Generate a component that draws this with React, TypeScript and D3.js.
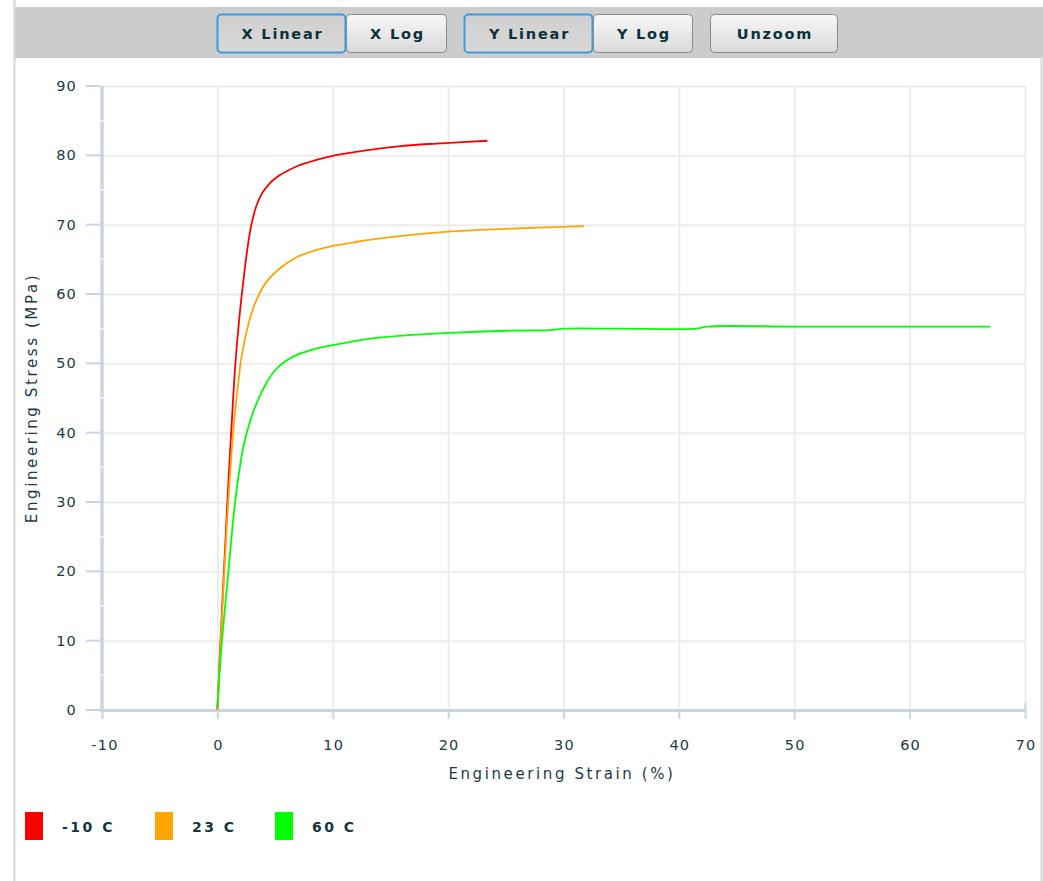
import React, { useEffect, useRef } from "react";
import * as d3 from "d3";

// series: [strain %, stress MPa]
const redPoints: [number, number][] = [
  [0, 0], [0.3, 11], [0.6, 21], [0.96, 33], [1.3, 43], [1.54, 49.5], [1.9, 56.5],
  [2.26, 62], [2.6, 66.5], [2.95, 70], [3.4, 72.8], [3.9, 74.6], [4.5, 75.9], [5.2, 76.9],
  [6, 77.7], [7, 78.5], [8.5, 79.3], [9.9, 79.9], [12, 80.5], [15.7, 81.3], [19, 81.7], [23.4, 82.1],
];
const orangePoints: [number, number][] = [
  [0, 0], [0.35, 12], [0.7, 23], [0.96, 30.5], [1.39, 40.5], [1.8, 47], [2.1, 51],
  [2.7, 55.7], [3.3, 58.8], [4.14, 61.5], [5.56, 63.9], [7, 65.4], [8.5, 66.3],
  [9.9, 66.9], [12, 67.5], [15, 68.2], [20, 69.0], [25, 69.4], [31.8, 69.8],
];
const greenPoints: [number, number][] = [
  [0, 0.3], [0.35, 9], [0.96, 20], [1.54, 30], [2.26, 38], [2.96, 42.3], [3.6, 45],
  [4.3, 47.3], [5.0, 49], [5.8, 50.2], [7, 51.3], [8.5, 52.1], [9.9, 52.6], [13, 53.5],
  [16, 54], [20.1, 54.4], [25, 54.7], [28.8, 54.8], [30.1, 55.0], [35, 55.0], [41.5, 55.0],
  [42.4, 55.3], [50, 55.3], [60, 55.3], [67, 55.3],
];

const seriesNames = ["-10 C", "23 C", "60 C"];
const seriesColors = ["#ff0000", "#ffa500", "#00ff00"];
const seriesData = [redPoints, orangePoints, greenPoints];

const xTicks = [-10, 0, 10, 20, 30, 40, 50, 60, 70];
const yTicks = [0, 10, 20, 30, 40, 50, 60, 70, 80, 90];
const yMinorTicks = [5, 15, 25, 35, 45, 55, 65, 75, 85];

const buttonGroups = [
  [{ label: "X Linear", on: true }, { label: "X Log", on: false }],
  [{ label: "Y Linear", on: true }, { label: "Y Log", on: false }],
  [{ label: "Unzoom", on: false }],
];

const W = 1043;
const H = 881;
const textColor = "#1d3a44";
const axisColor = "#c8d5e3";
const gridColor = "#ececec";
const font = "'DejaVu Sans', Verdana, sans-serif";

const App = () => {
  const ref = useRef<SVGSVGElement>(null);

  useEffect(() => {
    const svg = d3.select(ref.current);
    svg.selectAll("*").remove();

    const x = d3.scaleLinear().domain([-10, 70]).range([102, 1025]);
    const y = d3.scaleLinear().domain([0, 90]).range([710, 86]);

    const defs = svg.append("defs");
    const gOff = defs.append("linearGradient").attr("id", "btnOff")
      .attr("x1", 0).attr("y1", 0).attr("x2", 0).attr("y2", 1);
    gOff.append("stop").attr("offset", "0%").attr("stop-color", "#f7f7f7");
    gOff.append("stop").attr("offset", "100%").attr("stop-color", "#dadada");
    const gOn = defs.append("linearGradient").attr("id", "btnOn")
      .attr("x1", 0).attr("y1", 0).attr("x2", 0).attr("y2", 1);
    gOn.append("stop").attr("offset", "0%").attr("stop-color", "#d0d0d0");
    gOn.append("stop").attr("offset", "100%").attr("stop-color", "#d8d8d8");

    // panel frame + header
    svg.append("rect").attr("x", 0).attr("y", 0).attr("width", W).attr("height", H).attr("fill", "#fff");
    svg.append("rect").attr("x", 14).attr("y", 7).attr("width", W - 14).attr("height", 51).attr("fill", "#cccccc");
    svg.append("line").attr("x1", 14.5).attr("x2", 14.5).attr("y1", 0).attr("y2", H)
      .attr("stroke", "#d6d6d6").attr("stroke-width", 2);
    svg.append("line").attr("x1", 1041.5).attr("x2", 1041.5).attr("y1", 58).attr("y2", H)
      .attr("stroke", "#d6d6d6").attr("stroke-width", 2);

    // buttons
    const groupStarts = [217, 464, 710];
    const widths: Record<string, number> = { "X Linear": 129, "X Log": 101, "Y Linear": 129, "Y Log": 100, "Unzoom": 128 };
    buttonGroups.forEach((grp, gi) => {
      let bx = groupStarts[gi];
      grp.forEach((b) => {
        const bw = widths[b.label];
        svg.append("rect").attr("x", bx + 0.5).attr("y", 14.5).attr("width", bw - 1).attr("height", 38)
          .attr("rx", 4)
          .attr("fill", b.on ? "url(#btnOn)" : "url(#btnOff)")
          .attr("stroke", b.on ? "#3a9be0" : "#8a8a8a")
          .attr("stroke-width", b.on ? 2 : 1);
        svg.append("text").attr("x", bx + bw / 2 + 1).attr("y", 39)
          .attr("text-anchor", "middle")
          .attr("font-family", font).attr("font-weight", "bold").attr("font-size", 14.5)
          .attr("letter-spacing", 1.8)
          .attr("fill", "#0a303b")
          .text(b.label);
        bx += bw;
      });
    });

    // gridlines
    svg.append("g").selectAll("line").data(yTicks.filter((d) => d > 0)).join("line")
      .attr("x1", 102).attr("x2", 1025)
      .attr("y1", (d) => y(d) + 0.5).attr("y2", (d) => y(d) + 0.5)
      .attr("stroke", gridColor).attr("stroke-width", 2);
    svg.append("g").selectAll("line").data(xTicks.filter((d) => d > -10)).join("line")
      .attr("x1", (d) => x(d) + 0.5).attr("x2", (d) => x(d) + 0.5)
      .attr("y1", 86).attr("y2", 710)
      .attr("stroke", gridColor).attr("stroke-width", 2);

    // y axis
    svg.append("line").attr("x1", 102).attr("x2", 102).attr("y1", 86).attr("y2", 712)
      .attr("stroke", axisColor).attr("stroke-width", 3.5);
    svg.append("g").selectAll("line").data(yMinorTicks).join("line")
      .attr("x1", 100).attr("x2", 104)
      .attr("y1", (d) => y(d)).attr("y2", (d) => y(d))
      .attr("stroke", "#eef2f7").attr("stroke-width", 1.5);
    svg.append("g").selectAll("line").data(yTicks).join("line")
      .attr("x1", 86).attr("x2", 101)
      .attr("y1", (d) => y(d)).attr("y2", (d) => y(d))
      .attr("stroke", axisColor).attr("stroke-width", 2);
    svg.append("g").selectAll("text").data(yTicks).join("text")
      .attr("x", 77).attr("y", (d) => y(d) + 5)
      .attr("text-anchor", "end")
      .attr("font-family", font).attr("font-size", 14.5).attr("letter-spacing", 1.2)
      .attr("fill", textColor)
      .text((d) => String(d));

    // x axis
    svg.append("line").attr("x1", 100).attr("x2", 1026).attr("y1", 710.5).attr("y2", 710.5)
      .attr("stroke", axisColor).attr("stroke-width", 3);
    svg.append("g").selectAll("line").data(xTicks).join("line")
      .attr("x1", (d) => x(d) + 0.5).attr("x2", (d) => x(d) + 0.5)
      .attr("y1", (d) => (d === 70 ? 703 : 711)).attr("y2", 719)
      .attr("stroke", axisColor).attr("stroke-width", 2);
    svg.append("g").selectAll("text").data(xTicks).join("text")
      .attr("x", (d) => x(d) + (d < 0 ? 3 : 1)).attr("y", 750)
      .attr("text-anchor", "middle")
      .attr("font-family", font).attr("font-size", 14.5).attr("letter-spacing", 1.2)
      .attr("fill", textColor)
      .text((d) => String(d));

    // axis titles
    svg.append("text").attr("x", 562).attr("y", 779)
      .attr("text-anchor", "middle")
      .attr("font-family", font).attr("font-size", 15).attr("letter-spacing", 2.6)
      .attr("fill", textColor)
      .text("Engineering Strain (%)");
    svg.append("text")
      .attr("transform", "translate(37,398) rotate(-90)")
      .attr("text-anchor", "middle")
      .attr("font-family", font).attr("font-size", 15).attr("letter-spacing", 2.6)
      .attr("fill", textColor)
      .text("Engineering Stress (MPa)");

    // curves
    const line = d3.line<[number, number]>()
      .x((d) => x(d[0]))
      .y((d) => y(d[1]))
      .curve(d3.curveCatmullRom.alpha(0.5));
    svg.append("g").selectAll("path").data(seriesData).join("path")
      .attr("d", (d) => line(d))
      .attr("fill", "none")
      .attr("stroke", (_d, i) => seriesColors[i])
      .attr("stroke-width", 1.8)
      .attr("stroke-linejoin", "round");

    // legend
    const legendX = [25, 155, 275];
    seriesNames.forEach((name, i) => {
      svg.append("rect").attr("x", legendX[i]).attr("y", 812).attr("width", 18).attr("height", 28)
        .attr("fill", seriesColors[i]);
      svg.append("text").attr("x", legendX[i] + 37).attr("y", 832)
        .attr("font-family", font).attr("font-weight", "bold").attr("font-size", 14)
        .attr("letter-spacing", 2.5)
        .attr("fill", "#143640")
        .text(name);
    });
  }, []);

  return (
    <div style={{ position: "absolute", left: 0, top: 0 }}>
      <svg ref={ref} width={W} height={H} style={{ display: "block" }}></svg>
    </div>
  );
};

export default App;
